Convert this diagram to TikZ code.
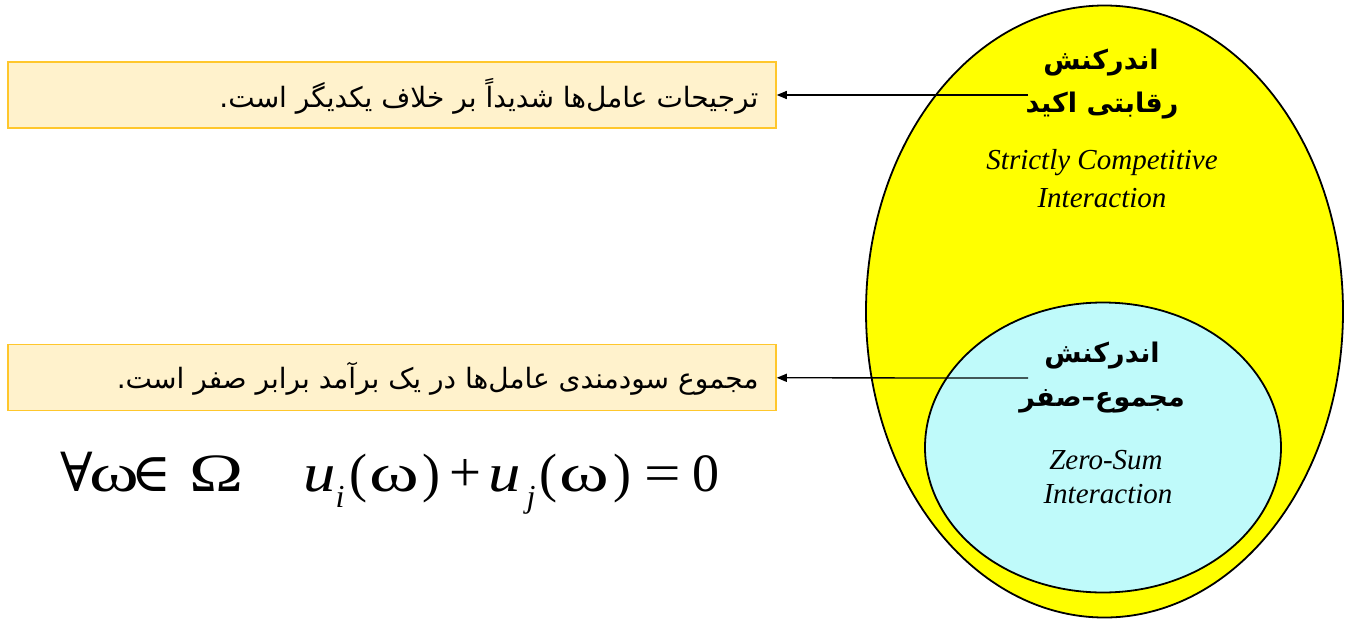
\documentclass[tikz,border=0pt]{standalone}
\usepackage{fontspec}
\setmainfont{Liberation Serif}
\newfontfamily\arabicfont[Script=Arabic]{DejaVu Sans}
\newfontfamily\symfont{DejaVu Serif}
\newfontfamily\tnr{Liberation Serif}
\TeXXeTstate=1
\usetikzlibrary{arrows.meta,shapes.geometric}
\definecolor{boxfill}{HTML}{FFF2CC}
\definecolor{boxline}{HTML}{FFC72C}
\definecolor{cyanfill}{HTML}{BFFAFA}
\definecolor{pureyellow}{HTML}{FFFF00}
\newcommand{\slot}[2]{\makebox[#1pt][c]{#2}}
\newcommand{\lslot}[2]{\makebox[#1pt][l]{#2}}
\newcommand{\wom}{{\tnr\scalebox{1.4}[1]{ω}}}
\newcommand{\uu}{{\tnr\itshape\scalebox{1.2}[1]{u}}}
\newcommand{\subsc}[1]{\raisebox{-0.3em}{\tnr\fontsize{32}{32}\selectfont\itshape #1}}
\tikzset{
  abox/.style={draw=boxline, line width=1.5pt, fill=boxfill, minimum width=768pt, minimum height=66pt, inner sep=0pt},
  bubble/.style={ellipse, draw=black, line width=1.8pt, inner sep=0pt},
  arr/.style={line width=1.3pt, -{Triangle[length=10pt,width=8pt]}},
  fatxt/.style={font=\fontsize{28}{32}\selectfont\arabicfont},
  fahead/.style={font=\fontsize{27}{30}\selectfont\arabicfont\bfseries},
  entxt/.style={font=\fontsize{29}{32}\selectfont\itshape},
}
\begin{document}
\begin{tikzpicture}[x=1pt,y=-1pt]
\useasboundingbox (0,0) rectangle (1345,619);
\fill[white] (0,0) rectangle (1345,619);
% ellipses
\node[bubble, fill=pureyellow, minimum width=477pt, minimum height=612pt] (outer) at (1104.5,311.5) {};
\node[bubble, fill=cyanfill, minimum width=356pt, minimum height=290pt] (inner) at (1103,447.5) {};
% boxes
\node[abox] (box1) at (392,95) {};
\node[abox] (box2) at (392,377.5) {};
\node[fatxt, anchor=east] (t1) at (762,96) {\beginR ترجیحات عامل‌ها شدیداً بر خلاف یکدیگر است.\endR};
\node[fatxt, anchor=east] (t2) at (762,379) {\beginR مجموع سودمندی عامل‌ها در یک برآمد برابر صفر است.\endR};
% ellipse labels
\node[fahead] (h1a) at (1101,63) {\beginR اندرکنش\endR};
\node[fahead] (h1b) at (1102,106) {\beginR رقابتی اکید\endR};
\node[entxt] (e1a) at (1102,163) {Strictly Competitive};
\node[entxt] (e1b) at (1102,198) {Interaction};
\node[fahead] (h2a) at (1102,356) {\beginR اندرکنش\endR};
\node[fahead] (h2b) at (1102,401) {\beginR مجموع–صفر\endR};
\node[entxt] (e2a) at (1106,460) {Zero-Sum};
\node[entxt] (e2b) at (1108,494) {Interaction};
% arrows
\coordinate (s1) at (1028,95);
\coordinate (s2) at (1028,378);
\draw[arr] (s1) -- (box1);
\draw[arr] (s2) -- (box2);
% formula
\node[anchor=base west, inner sep=0pt, font=\tnr\fontsize{54}{58}\selectfont] (f) at (60,491)
 {\slot{33}{\symfont ∀}\slot{43}{\wom}\slot{30}{\symfont ∈}\hspace{19pt}\slot{62}{\tnr\scalebox{1.35}[1]{Ω}}\hspace{56pt}%
  \lslot{45}{\uu\subsc{i}}\slot{20}{\tnr (}\slot{52}{\wom}\slot{22}{\tnr )}\slot{46}{\tnr\scalebox{1.05}{+}}%
  \lslot{50}{\uu\hspace{6pt}\subsc{j}}\slot{20}{\tnr (}\slot{52}{\wom}\slot{24}{\tnr )}\slot{58}{\tnr\scalebox{1.2}[1]{=}}\slot{28}{\tnr 0}};
\end{tikzpicture}
\end{document}
